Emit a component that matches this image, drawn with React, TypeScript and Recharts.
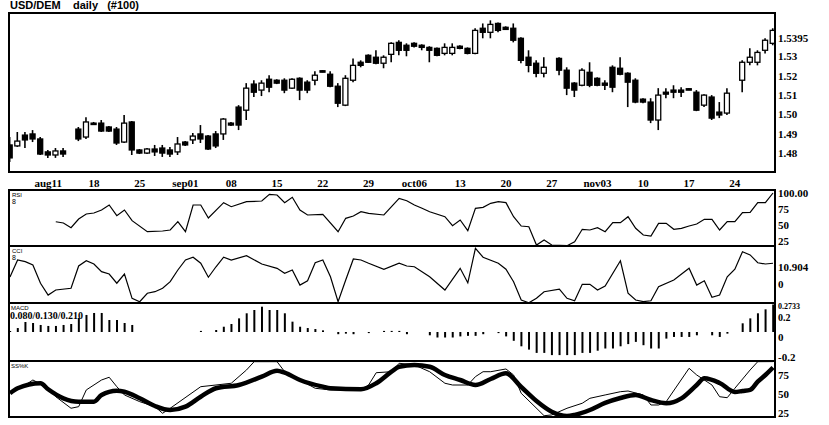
import React from 'react';
import { ComposedChart, Bar, Line, XAxis, YAxis } from 'recharts';

// ---------- data ----------
const candleSlots = [0,1,2,3,4,5,6,7,9,10,11,12,13,14,15,16,17,18,19,20,21,22,23,24,25,26,27,28,29,30,31,32,33,34,35,36,37,38,39,40,41,42,43,44,45,46,47,48,49,50,51,52,53,54,55,56,57,58,59,60,61,62,63,64,65,66,67,68,69,70,72,73,74,75,76,77,78,79,80,81,82,83,84,85,86,87,88,89,90,91,92,93,94,96,97,98,99,100];
const opens = [1.4842,1.4837,1.4893,1.4899,1.4873,1.4806,1.4790,1.4811,1.4924,1.4883,1.4955,1.4955,1.4935,1.4924,1.4857,1.4961,1.4816,1.4800,1.4821,1.4826,1.4816,1.4806,1.4857,1.4868,1.4899,1.4888,1.4899,1.4899,1.4955,1.5038,1.5022,1.5157,1.5126,1.5182,1.5177,1.5177,1.5136,1.5187,1.5167,1.5177,1.5226,1.5208,1.5146,1.5048,1.5177,1.5270,1.5306,1.5296,1.5265,1.5311,1.5373,1.5358,1.5368,1.5358,1.5347,1.5342,1.5316,1.5316,1.5353,1.5342,1.5316,1.5446,1.5425,1.5471,1.5451,1.5446,1.5394,1.5296,1.5265,1.5213,1.5290,1.5229,1.5162,1.5151,1.5218,1.5187,1.5162,1.5244,1.5239,1.5213,1.5177,1.5079,1.5064,1.4971,1.5115,1.5126,1.5126,1.5133,1.5115,1.5048,1.5090,1.5012,1.5007,1.5177,1.5270,1.5270,1.5332,1.5368];
const highs = [1.4883,1.4909,1.4909,1.4919,1.4883,1.4816,1.4826,1.4826,1.4935,1.4986,1.4961,1.4971,1.4940,1.4935,1.4997,1.4966,1.4821,1.4826,1.4842,1.4842,1.4831,1.4883,1.4862,1.4904,1.4945,1.4893,1.4914,1.4981,1.4961,1.5048,1.5162,1.5177,1.5177,1.5203,1.5182,1.5187,1.5187,1.5192,1.5177,1.5223,1.5229,1.5223,1.5162,1.5203,1.5290,1.5280,1.5311,1.5332,1.5306,1.5373,1.5384,1.5368,1.5373,1.5363,1.5353,1.5347,1.5368,1.5368,1.5358,1.5347,1.5446,1.5471,1.5487,1.5476,1.5456,1.5471,1.5399,1.5332,1.5280,1.5296,1.5296,1.5244,1.5167,1.5239,1.5270,1.5192,1.5177,1.5254,1.5296,1.5218,1.5187,1.5084,1.5084,1.5136,1.5136,1.5151,1.5141,1.5136,1.5126,1.5105,1.5100,1.5064,1.5136,1.5280,1.5342,1.5332,1.5394,1.5446];
const lows = [1.4754,1.4832,1.4826,1.4857,1.4790,1.4775,1.4775,1.4780,1.4862,1.4873,1.4950,1.4909,1.4909,1.4842,1.4852,1.4790,1.4795,1.4795,1.4785,1.4780,1.4780,1.4790,1.4837,1.4847,1.4852,1.4816,1.4826,1.4868,1.4940,1.4919,1.4971,1.5090,1.5095,1.5115,1.5157,1.5110,1.5131,1.5074,1.5110,1.5151,1.5218,1.5141,1.5038,1.5043,1.5167,1.5244,1.5267,1.5260,1.5239,1.5270,1.5306,1.5301,1.5347,1.5332,1.5270,1.5301,1.5306,1.5306,1.5337,1.5311,1.5311,1.5394,1.5394,1.5425,1.5438,1.5373,1.5265,1.5218,1.5192,1.5192,1.5203,1.5100,1.5090,1.5146,1.5141,1.5146,1.5126,1.5115,1.5203,1.5038,1.5058,1.5058,1.4955,1.4919,1.5084,1.5084,1.5090,1.5126,1.5017,1.5038,1.4971,1.4981,1.4997,1.5115,1.5254,1.5254,1.5316,1.5358];
const closes = [1.4775,1.4862,1.4868,1.4873,1.4795,1.4790,1.4811,1.4795,1.4873,1.4961,1.4952,1.4914,1.4914,1.4852,1.4955,1.4816,1.4800,1.4821,1.4806,1.4800,1.4795,1.4847,1.4842,1.4888,1.4873,1.4821,1.4837,1.4976,1.4945,1.4945,1.5136,1.5115,1.5162,1.5141,1.5162,1.5126,1.5182,1.5126,1.5126,1.5203,1.5221,1.5146,1.5058,1.5187,1.5254,1.5254,1.5270,1.5265,1.5296,1.5368,1.5332,1.5332,1.5353,1.5347,1.5332,1.5306,1.5347,1.5347,1.5342,1.5316,1.5435,1.5425,1.5466,1.5435,1.5440,1.5384,1.5280,1.5254,1.5213,1.5244,1.5229,1.5136,1.5126,1.5229,1.5151,1.5151,1.5151,1.5141,1.5208,1.5167,1.5064,1.5064,1.4971,1.5100,1.5105,1.5115,1.5115,1.5128,1.5022,1.5100,1.4981,1.4997,1.5110,1.5270,1.5296,1.5321,1.5384,1.5435];

const weekTickSlots = [5, 11, 17, 23, 29, 35, 41, 47, 53, 59, 65, 71, 77, 83, 89, 95];
const weekTickLabels = ['aug11', '18', '25', 'sep01', '08', '15', '22', '29', 'oct06', '13', '20', '27', 'nov03', '10', '17', '24'];

const priceTicks = [1.48, 1.49, 1.5, 1.51, 1.52, 1.53, 1.5395];
const priceTickLabels = ['1.48', '1.49', '1.50', '1.51', '1.52', '1.53', '1.5395'];

const rsiSlots = [6,7,8,9,10,11,12,13,14,15,16,18,20,21,22,23,24,25,26,28,29,31,33,34,35,36,37,38,39,41,43,44,45,46,47,49,51,52,53,54,55,57,58,59,60,61,62,63,64,65,66,67,68,69,70,71,73,74,75,76,77,78,79,80,81,82,83,84,85,86,87,88,89,90,91,92,93,94,95,96,97,98,99,100];
const rsiValues = [55.2,53.2,45.9,59.4,67.2,68.8,73.5,81.3,64.6,73.5,56.8,39.6,40.7,42.3,55.2,39.6,81.3,81.3,61.0,84.9,78.6,86.4,87.5,98.0,96.9,84.9,93.3,73.5,65.7,66.8,39.6,60.5,64.1,70.8,68.3,65.7,91.7,88.0,81.3,76.1,70.8,63.0,49.0,57.9,41.2,76.1,77.7,83.9,86.4,84.9,63.0,48.5,47.4,18.9,26.7,18.9,17.8,24.0,43.4,42.3,45.9,39.6,53.7,53.7,63.0,44.9,34.5,32.9,52.7,52.7,43.4,44.9,48.5,51.6,59.0,59.0,42.3,55.2,55.2,69.3,69.9,84.9,84.9,100];
const rsiTicks = [25, 50, 75, 100];
const rsiTickLabels = ['25', '50', '75', '100.00'];

const cciSlots = [0,1,2,3,4,5,6,8,9,10,11,12,13,14,15,16,17,18,19,20,21,22,23,24,25,26,27,28,29,31,33,35,36,37,38,39,40,41,42,43,44,45,46,47,49,51,52,53,55,57,59,60,61,62,64,65,66,67,68,69,70,72,73,74,75,76,77,78,80,81,82,83,84,85,87,89,90,91,92,93,94,95,96,97,98,99,100];
const cciValues = [4.6,15.6,14.5,12.4,0.5,-7.2,-3.9,-2.8,11.7,15.1,13.0,8.0,6.5,0.5,6.5,-9.3,-11.5,-6.0,-5.0,-2.8,1.5,9.1,15.6,17.4,13.5,4.4,11.2,17.4,15.6,18.4,13.0,10.2,7.0,9.1,-0.7,2.1,13.8,15.6,4.7,-11.5,2.6,16.3,15.6,13.5,9.6,13.5,11.7,11.2,4.7,-3.9,10.2,0.8,23.2,17.4,13.5,9.6,1.5,-10.4,-12.2,-9.3,-5.0,-3.4,-9.3,-10.9,-0.2,-0.2,-3.9,-1.3,15.1,-6.0,-10.4,-11.5,-10.9,-1.8,2.6,10.2,-0.7,2.1,-8.6,-7.2,4.7,9.6,21.0,18.9,13.8,13.0,13.5];
const cciTicks = [0, 10.904];
const cciTickLabels = ['0', '10.904'];

const macdValues = [
  0.009,0.036,0.091,0.082,0.064,0.055,0.055,0.064,0.073,0.127,
  0.155,0.173,0.173,0.109,0.109,0.082,0.064,0,0,0,
  0,0,0,0,0,0.01,0,0.018,0.048,0.073,
  0.124,0.17,0.2,0.23,0.2,0.2,0.17,0.094,0.048,0.036,
  0.027,0.015,0,-0.02,-0.015,-0.02,0,-0.01,0,0.01,
  0.01,0.01,-0.02,0,0,-0.03,-0.05,-0.05,-0.05,-0.04,
  -0.035,-0.035,-0.02,0,-0.01,-0.04,-0.08,-0.13,-0.16,-0.19,
  -0.19,-0.21,-0.21,-0.21,-0.21,-0.19,-0.19,-0.17,-0.15,-0.15,
  -0.13,-0.11,-0.09,-0.12,-0.15,-0.15,-0.06,-0.045,-0.045,-0.045,
  -0.03,0,-0.03,-0.045,-0.015,0,0.079,0.124,0.17,0.206,
  0.25,
];
const macdTicks = [-0.2, 0, 0.2, 0.2733];
const macdTickLabels = ['-0.2', '0', '0.2', '0.2733'];

const stochKSlots = [0,2,3,5,6,8,9,10,12,13,14,15,17,19,20,21,25,27,29,31,32,34,35,36,38,40,42,46,47,48,50,51,53,55,57,58,60,61,62,63,65,66,67,70,71,73,75,76,78,80,81,83,84,85,86,89,90,92,93,94,95,97,98,100];
const stochKValues = [53.4,62.2,68.8,58.3,46.8,31.6,33.7,55.7,68.8,72.4,60.0,49.1,40.3,33.7,25.0,31.6,60.0,62.2,64.5,82.0,92.9,92.9,92.9,79.7,68.8,57.9,55.7,55.7,62.2,78.4,79.7,90.8,88.6,79.7,64.5,62.2,62.2,73.2,79.7,79.7,83.3,75.4,51.3,21.8,22.8,31.6,38.2,44.7,49.1,53.4,54.3,49.1,35.9,35.9,40.3,84.2,75.4,62.2,46.8,45.5,57.9,82.0,92.9,93];
const stochDSlots = [0,1,4,5,7,9,11,12,14,15,17,19,21,23,25,27,30,33,35,36,38,41,42,46,48,50,51,53,55,57,59,61,63,65,67,69,71,73,74,76,78,80,82,84,86,88,90,91,93,95,96,97,98,99,100];
const stochDValues = [51.3,57.9,64.5,56.6,44.7,40.3,40.3,49.1,54.7,53.4,44.7,34.6,29.3,33.7,46.8,57.9,62.2,73.2,81.1,78.4,68.8,60.0,57.9,56.6,64.5,79.7,86.3,88.6,86.3,75.4,68.8,62.2,70.1,77.6,59.6,41.2,27.1,21.4,22.8,29.3,38.6,45.1,49.1,42.5,38.2,44.7,62.2,71.1,64.9,53.0,54.3,55.7,66.6,75.4,85.3];
const stochTicks = [25, 50, 75];

// ---------- derived tables ----------
const candleData = candleSlots.map((slot, i) => ({
  slot, open: opens[i], high: highs[i], low: lows[i], close: closes[i],
}));
const rsiData = rsiSlots.map((slot, i) => ({ slot, v: rsiValues[i] }));
const cciData = cciSlots.map((slot, i) => ({ slot, v: cciValues[i] }));
const macdData = macdValues.map((v, slot) => ({ slot, v }));
const stochKData = stochKSlots.map((slot, i) => ({ slot, v: stochKValues[i] }));
const stochDData = stochDSlots.map((slot, i) => ({ slot, v: stochDValues[i] }));

// ---------- layout ----------
const W = 829;
const X_DOMAIN: [number, number] = [-0.26, 100.26];
const PLOT_L = 8;
const PLOT_R = 775;
const RIGHT_W = W - PLOT_R;
const PAD = 8;
const serif = '"Liberation Serif", "Times New Roman", serif';
const sans = '"Liberation Sans", Arial, sans-serif';

const Candle = (props: any) => {
  const { x, y, width, height, payload } = props;
  if (!payload) return null;
  const { open, close, high, low } = payload;
  const top = Math.min(y, y + height);
  const h = Math.abs(height);
  const cx = x + width / 2;
  const span = high - low;
  const py = (v: number) => top + (span === 0 ? 0 : ((high - v) / span) * h);
  const up = close >= open;
  const bTop = py(Math.max(open, close));
  const bBot = py(Math.min(open, close));
  const bw = 5;
  return (
    <g>
      <line x1={cx} x2={cx} y1={top} y2={top + h} stroke="#000" strokeWidth={1.6} />
      <rect
        x={cx - bw / 2}
        y={bTop}
        width={bw}
        height={Math.max(bBot - bTop, 1.4)}
        fill={up ? '#fff' : '#000'}
        stroke="#000"
        strokeWidth={1.3}
      />
    </g>
  );
};

const makeRightTick = (values: number[], labels: string[], dys: number[] = [], sizes: number[] = []) => (props: any) => {
  const { x, y, payload } = props;
  const idx = values.indexOf(payload.value);
  return (
    <text
      x={x}
      y={y + (dys[idx] || 0)}
      textAnchor="start"
      dominantBaseline="central"
      fontFamily={serif}
      fontWeight="bold"
      fontSize={sizes[idx] || 11}
      fill="#000"
    >
      {idx >= 0 ? labels[idx] : payload.value}
    </text>
  );
};

const DateTick = (props: any) => {
  const { x, y, payload } = props;
  const idx = weekTickSlots.indexOf(payload.value);
  return (
    <text x={x} y={y + 15} textAnchor="middle" fontFamily={serif} fontWeight="bold" fontSize={11} fill="#000">
      {weekTickLabels[idx]}
    </text>
  );
};

const hLine = (y: number, key: string) => (
  <div key={key} style={{ position: 'absolute', left: PLOT_L, top: y - 1, width: PLOT_R - PLOT_L + 1, height: 2, background: '#000' }} />
);
const vLine = (x: number, y1: number, y2: number, key: string) => (
  <div key={key} style={{ position: 'absolute', left: x - 1, top: y1, width: 2, height: y2 - y1, background: '#000' }} />
);

const tinyLabel = (text: string, left: number, top: number, size = 7, bold = false, family = sans) => (
  <div
    key={text + left + top}
    style={{
      position: 'absolute', left, top, fontSize: size, lineHeight: 1, fontFamily: family,
      fontWeight: bold ? 'bold' : 'normal', color: '#000', whiteSpace: 'pre',
    }}
  >
    {text}
  </div>
);

const panelMargin = { top: PAD, right: 0, left: PLOT_L, bottom: PAD };

const rightAxisProps = {
  orientation: 'right' as const,
  width: RIGHT_W,
  axisLine: false,
  tickLine: false,
  tickSize: 0,
  tickMargin: 3,
  interval: 0 as const,
  allowDataOverflow: true,
};

// panel: plot top / bottom in page pixels
const panel = (plotTop: number, plotBottom: number) => ({
  top: plotTop - PAD,
  height: plotBottom - plotTop + 2 * PAD,
});

export default function App() {
  const rsiP = panel(190, 246);
  const cciP = panel(246, 303);
  const macdP = panel(303, 361);
  const stoP = panel(361, 417);
  return (
    <div style={{ position: 'absolute', left: 0, top: 0, width: W, height: 425, background: '#fff', overflow: 'hidden' }}>
      <div style={{ position: 'absolute', left: 10, top: -1, fontFamily: sans, fontWeight: 'bold', fontSize: 11, lineHeight: '12px', whiteSpace: 'pre', color: '#000' }}>
        {'USD/DEM    daily   (#100)'}
      </div>

      {/* price panel */}
      <div style={{ position: 'absolute', left: 0, top: 0 }}>
        <ComposedChart width={W} height={190} data={candleData} margin={{ top: 13, right: 0, left: PLOT_L, bottom: 0 }}>
          <XAxis
            type="number"
            dataKey="slot"
            domain={X_DOMAIN}
            allowDataOverflow
            ticks={weekTickSlots}
            interval={0}
            height={18}
            axisLine={false}
            tickLine={false}
            tickSize={0}
            tickMargin={0}
            tick={DateTick}
          />
          <YAxis
            {...rightAxisProps}
            domain={[1.4702, 1.5525]}
            ticks={priceTicks}
            tick={makeRightTick(priceTicks, priceTickLabels)}
          />
          <Bar
            dataKey={(d: any) => [d.low, d.high]}
            barSize={5}
            shape={(p: any) => <Candle {...p} />}
            isAnimationActive={false}
          />
        </ComposedChart>
      </div>

      {/* RSI */}
      <div style={{ position: 'absolute', left: 0, top: rsiP.top }}>
        <ComposedChart width={W} height={rsiP.height} margin={panelMargin}>
          <XAxis type="number" dataKey="slot" domain={X_DOMAIN} allowDataOverflow hide />
          <YAxis {...rightAxisProps} domain={[17.32, 104.68]} ticks={rsiTicks} tick={makeRightTick(rsiTicks, rsiTickLabels)} />
          <Line data={rsiData} dataKey="v" stroke="#000" strokeWidth={1.2} dot={false} activeDot={false} isAnimationActive={false} />
        </ComposedChart>
      </div>

      {/* CCI */}
      <div style={{ position: 'absolute', left: 0, top: cciP.top }}>
        <ComposedChart width={W} height={cciP.height} margin={panelMargin}>
          <XAxis type="number" dataKey="slot" domain={X_DOMAIN} allowDataOverflow hide />
          <YAxis {...rightAxisProps} domain={[-12.35, 24.7]} ticks={cciTicks} tick={makeRightTick(cciTicks, cciTickLabels)} />
          <Line data={cciData} dataKey="v" stroke="#000" strokeWidth={1.2} dot={false} activeDot={false} isAnimationActive={false} />
        </ComposedChart>
      </div>

      {/* MACD histogram */}
      <div style={{ position: 'absolute', left: 0, top: macdP.top }}>
        <ComposedChart width={W} height={macdP.height} data={macdData} margin={panelMargin}>
          <XAxis type="number" dataKey="slot" domain={X_DOMAIN} allowDataOverflow hide />
          <YAxis
            {...rightAxisProps}
            domain={[-0.2636, 0.2636]}
            ticks={macdTicks}
            tick={makeRightTick(macdTicks, macdTickLabels, [3, 5, 8, 5], [11, 11, 10, 8])}
          />
          <Bar dataKey="v" barSize={2} fill="#000" isAnimationActive={false} />
        </ComposedChart>
      </div>

      {/* Stochastic */}
      <div style={{ position: 'absolute', left: 0, top: stoP.top }}>
        <ComposedChart width={W} height={stoP.height} margin={panelMargin}>
          <XAxis type="number" dataKey="slot" domain={X_DOMAIN} allowDataOverflow hide />
          <YAxis {...rightAxisProps} domain={[20.1, 93.8]} ticks={stochTicks} tick={makeRightTick(stochTicks, ['25', '50', '75'])} />
          <Line data={stochKData} dataKey="v" stroke="#000" strokeWidth={1} dot={false} activeDot={false} isAnimationActive={false} />
          <Line data={stochDData} dataKey="v" type="monotone" stroke="#000" strokeWidth={4.5} strokeLinejoin="round" dot={false} activeDot={false} isAnimationActive={false} />
        </ComposedChart>
      </div>

      {/* frames */}
      {hLine(13, 'h0')}
      {hLine(172, 'h1')}
      {hLine(190, 'h2')}
      {hLine(246, 'h3')}
      {hLine(303, 'h4')}
      {hLine(361, 'h5')}
      {hLine(417, 'h6')}
      {vLine(9, 13, 173, 'v0')}
      {vLine(775, 13, 173, 'v1')}
      {vLine(9, 190, 418, 'v2')}
      {vLine(775, 190, 418, 'v3')}

      {/* panel labels */}
      {tinyLabel('RSI', 12, 192, 6)}
      {tinyLabel('8', 12, 198, 7)}
      {tinyLabel('CCI', 12, 248, 6)}
      {tinyLabel('8', 12, 254, 7)}
      {tinyLabel('MACD', 11, 305, 6)}
      {tinyLabel('0.080/0.130/0.210', 10, 311, 10, true, serif)}
      {tinyLabel('SS%K', 11, 363, 6)}
    </div>
  );
}
